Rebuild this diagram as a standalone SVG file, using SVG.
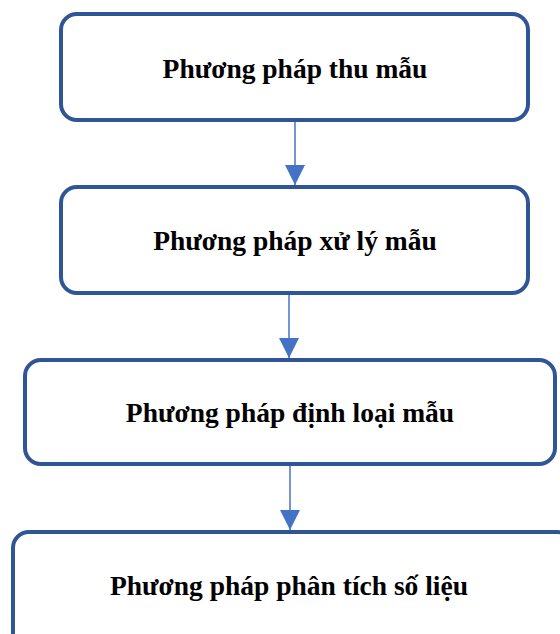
<svg xmlns="http://www.w3.org/2000/svg" width="560" height="634" viewBox="0 0 560 634">
<style>
.box{fill:#fff;stroke:#2F5597;stroke-width:4}
.lbl{font-family:"Liberation Serif","Times New Roman",serif;font-weight:bold;font-size:27.5px;fill:#000;text-anchor:middle}
.con{stroke:#4472C4;stroke-width:1.5;fill:none}
</style>
<defs>
<marker id="ah" viewBox="0 0 20 20" refX="20" refY="10" markerUnits="userSpaceOnUse" markerWidth="20" markerHeight="20" orient="auto">
<path d="M0,0 L20,10 L0,20 Z" fill="#4472C4"/>
</marker>
</defs>
<g id="connectors">
<line class="con" x1="295" y1="122" x2="295" y2="185" marker-end="url(#ah)"/>
<line class="con" x1="289" y1="295" x2="289" y2="358" marker-end="url(#ah)"/>
<line class="con" x1="290" y1="466" x2="290" y2="530" marker-end="url(#ah)"/>
</g>
<g id="n1">
<rect class="box" x="61" y="14" width="467" height="106" rx="16"/>
<text class="lbl" x="295" y="78">Phương pháp thu mẫu</text>
</g>
<g id="n2">
<rect class="box" x="61" y="187" width="467" height="106" rx="16"/>
<text class="lbl" x="295" y="250">Phương pháp xử lý mẫu</text>
</g>
<g id="n3">
<rect class="box" x="25" y="360" width="530" height="104" rx="16"/>
<text class="lbl" x="290" y="422">Phương pháp định loại mẫu</text>
</g>
<g id="n4">
<rect class="box" x="13" y="532" width="560" height="120" rx="16"/>
<text class="lbl" x="289" y="595">Phương pháp phân tích số liệu</text>
</g>
</svg>
